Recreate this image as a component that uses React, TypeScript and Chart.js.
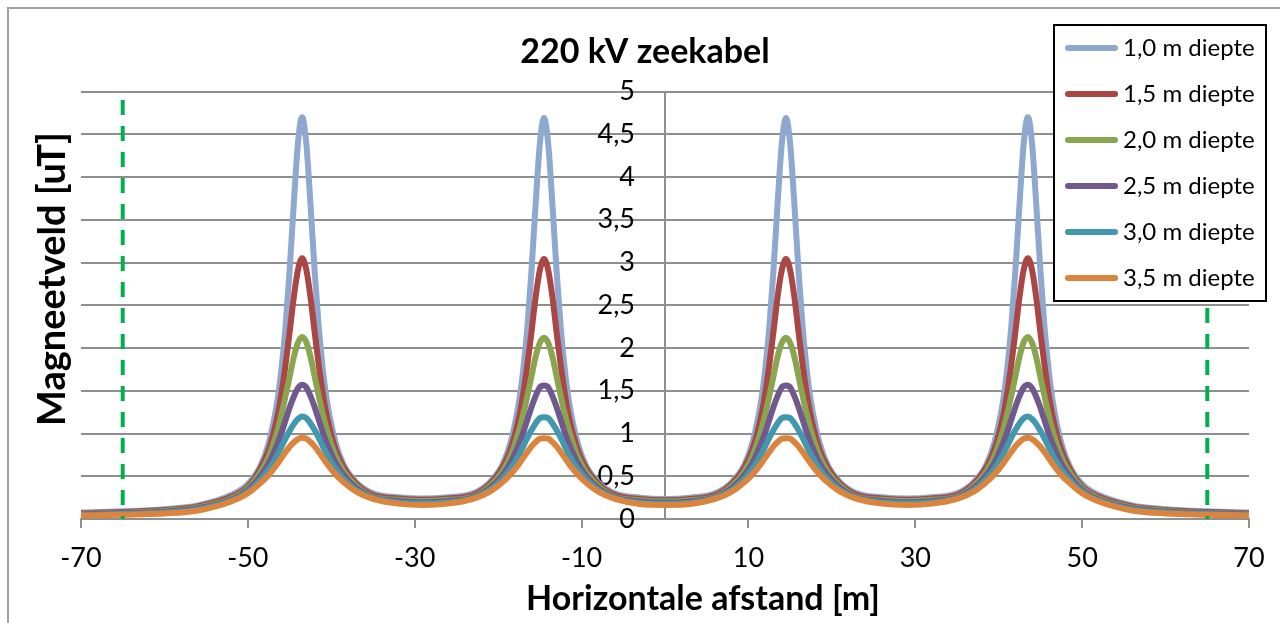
import React, { useEffect, useRef } from "react";
import { Chart, registerables } from "chart.js";

Chart.register(...registerables);

const FONT = "Lato, 'Open Sans', sans-serif";

const chartTitle = "220 kV zeekabel";
const xAxisTitle = "Horizontale afstand [m]";
const yAxisTitle = "Magneetveld [uT]";

const xTickValues = [-70, -50, -30, -10, 10, 30, 50, 70];
const boundaryX = [-65, 65];
const boundaryTop = 4.9;
const yLabelAxisAt = -3.6;

const seriesLabels = ["1,0 m diepte", "1,5 m diepte", "2,0 m diepte", "2,5 m diepte", "3,0 m diepte", "3,5 m diepte"];
const seriesColors = ["#8EA8CF", "#AA4643", "#89A54E", "#71588F", "#4198AF", "#DB843D"];

const xValues = [
  -70, -65, -60, -56, -52, -50, -48.5, -47.5, -46.5, -46, -45.5, -45, -44.5, -44, -43.5,
  -43, -42.5, -42, -41.5, -41, -40.5, -39.5, -38.5, -37, -35, -32, -29, -26, -23, -21,
  -19.5, -18.5, -17.5, -17, -16.5, -16, -15.5, -15, -14.5, -14, -13.5, -13, -12.5, -12, -11.5,
  -10.5, -9.5, -8, -6, -3, 0,
  3, 6, 8, 9.5, 10.5, 11.5, 12, 12.5, 13, 13.5, 14, 14.5, 15, 15.5, 16, 16.5, 17, 17.5, 18.5, 19.5,
  21, 23, 26, 29, 32, 35, 37, 38.5, 39.5, 40.5, 41, 41.5, 42, 42.5, 43, 43.5, 44, 44.5, 45, 45.5,
  46, 46.5, 47.5, 48.5, 50, 52, 56, 60, 65, 70,
];

const depth10 = [
  0.075, 0.09, 0.115, 0.16, 0.28, 0.41, 0.62, 0.89, 1.36, 1.73, 2.23, 2.9, 3.68, 4.39, 4.7,
  4.4, 3.69, 2.91, 2.24, 1.74, 1.37, 0.9, 0.63, 0.43, 0.3, 0.255, 0.24, 0.255, 0.3, 0.43,
  0.63, 0.9, 1.37, 1.74, 2.24, 2.91, 3.69, 4.39, 4.69, 4.39, 3.69, 2.91, 2.24, 1.74, 1.37,
  0.9, 0.63, 0.43, 0.3, 0.25, 0.235,
  0.25, 0.3, 0.43, 0.63, 0.9, 1.37, 1.74, 2.24, 2.91, 3.69, 4.39, 4.69, 4.39, 3.69, 2.91, 2.24, 1.74, 1.37, 0.9, 0.63,
  0.43, 0.3, 0.255, 0.24, 0.255, 0.3, 0.43, 0.63, 0.9, 1.37, 1.74, 2.24, 2.91, 3.69, 4.4, 4.7, 4.39, 3.68, 2.9, 2.23,
  1.73, 1.36, 0.89, 0.62, 0.41, 0.28, 0.16, 0.115, 0.09, 0.075,
];

const depth15 = [
  0.068, 0.082, 0.105, 0.148, 0.26, 0.38, 0.59, 0.81, 1.18, 1.45, 1.79, 2.18, 2.59, 2.91, 3.05,
  2.92, 2.6, 2.19, 1.8, 1.46, 1.19, 0.82, 0.6, 0.41, 0.28, 0.24, 0.225, 0.24, 0.28, 0.41,
  0.6, 0.82, 1.19, 1.46, 1.8, 2.19, 2.6, 2.91, 3.04, 2.91, 2.6, 2.19, 1.8, 1.46, 1.19,
  0.82, 0.6, 0.41, 0.28, 0.235, 0.22,
  0.235, 0.28, 0.41, 0.6, 0.82, 1.19, 1.46, 1.8, 2.19, 2.6, 2.91, 3.04, 2.91, 2.6, 2.19, 1.8, 1.46, 1.19, 0.82, 0.6,
  0.41, 0.28, 0.24, 0.225, 0.24, 0.28, 0.41, 0.6, 0.82, 1.19, 1.46, 1.8, 2.19, 2.6, 2.92, 3.05, 2.91, 2.59, 2.18, 1.79,
  1.45, 1.18, 0.81, 0.59, 0.38, 0.26, 0.148, 0.105, 0.082, 0.068,
];

const depth20 = [
  0.061, 0.074, 0.095, 0.136, 0.24, 0.36, 0.545, 0.73, 1.02, 1.21, 1.43, 1.66, 1.89, 2.06, 2.13,
  2.07, 1.9, 1.67, 1.44, 1.22, 1.03, 0.74, 0.555, 0.385, 0.26, 0.225, 0.21, 0.225, 0.26, 0.385,
  0.555, 0.74, 1.03, 1.22, 1.44, 1.67, 1.9, 2.06, 2.12, 2.06, 1.9, 1.67, 1.44, 1.22, 1.03,
  0.74, 0.555, 0.385, 0.26, 0.22, 0.205,
  0.22, 0.26, 0.385, 0.555, 0.74, 1.03, 1.22, 1.44, 1.67, 1.9, 2.06, 2.12, 2.06, 1.9, 1.67, 1.44, 1.22, 1.03, 0.74, 0.555,
  0.385, 0.26, 0.225, 0.21, 0.225, 0.26, 0.385, 0.555, 0.74, 1.03, 1.22, 1.44, 1.67, 1.9, 2.07, 2.13, 2.06, 1.89, 1.66, 1.43,
  1.21, 1.02, 0.73, 0.545, 0.36, 0.24, 0.136, 0.095, 0.074, 0.061,
];

const depth25 = [
  0.054, 0.066, 0.085, 0.124, 0.225, 0.34, 0.5, 0.65, 0.87, 1.0, 1.15, 1.3, 1.43, 1.53, 1.57,
  1.54, 1.44, 1.31, 1.16, 1.01, 0.88, 0.66, 0.51, 0.36, 0.25, 0.21, 0.195, 0.21, 0.25, 0.36,
  0.51, 0.66, 0.88, 1.01, 1.16, 1.31, 1.44, 1.54, 1.56, 1.54, 1.44, 1.31, 1.16, 1.01, 0.88,
  0.66, 0.51, 0.36, 0.25, 0.205, 0.19,
  0.205, 0.25, 0.36, 0.51, 0.66, 0.88, 1.01, 1.16, 1.31, 1.44, 1.54, 1.56, 1.54, 1.44, 1.31, 1.16, 1.01, 0.88, 0.66, 0.51,
  0.36, 0.25, 0.21, 0.195, 0.21, 0.25, 0.36, 0.51, 0.66, 0.88, 1.01, 1.16, 1.31, 1.44, 1.54, 1.57, 1.53, 1.43, 1.3, 1.15,
  1.0, 0.87, 0.65, 0.5, 0.34, 0.225, 0.124, 0.085, 0.066, 0.054,
];

const depth30 = [
  0.047, 0.058, 0.075, 0.112, 0.215, 0.32, 0.46, 0.58, 0.74, 0.84, 0.94, 1.03, 1.11, 1.17, 1.2,
  1.18, 1.12, 1.04, 0.95, 0.85, 0.75, 0.59, 0.47, 0.34, 0.245, 0.195, 0.18, 0.195, 0.245, 0.34,
  0.47, 0.59, 0.75, 0.85, 0.95, 1.04, 1.12, 1.18, 1.19, 1.18, 1.12, 1.04, 0.95, 0.85, 0.75,
  0.59, 0.47, 0.34, 0.245, 0.19, 0.178,
  0.19, 0.245, 0.34, 0.47, 0.59, 0.75, 0.85, 0.95, 1.04, 1.12, 1.18, 1.19, 1.18, 1.12, 1.04, 0.95, 0.85, 0.75, 0.59, 0.47,
  0.34, 0.245, 0.195, 0.18, 0.195, 0.245, 0.34, 0.47, 0.59, 0.75, 0.85, 0.95, 1.04, 1.12, 1.18, 1.2, 1.17, 1.11, 1.03, 0.94,
  0.84, 0.74, 0.58, 0.46, 0.32, 0.215, 0.112, 0.075, 0.058, 0.047,
];

const depth35 = [
  0.04, 0.05, 0.065, 0.1, 0.205, 0.3, 0.42, 0.515, 0.64, 0.71, 0.78, 0.845, 0.895, 0.935, 0.95,
  0.94, 0.9, 0.85, 0.785, 0.715, 0.645, 0.525, 0.43, 0.32, 0.235, 0.18, 0.165, 0.18, 0.235, 0.32,
  0.43, 0.525, 0.645, 0.715, 0.785, 0.85, 0.9, 0.94, 0.945, 0.94, 0.9, 0.85, 0.785, 0.715, 0.645,
  0.525, 0.43, 0.32, 0.235, 0.175, 0.165,
  0.175, 0.235, 0.32, 0.43, 0.525, 0.645, 0.715, 0.785, 0.85, 0.9, 0.94, 0.945, 0.94, 0.9, 0.85, 0.785, 0.715, 0.645, 0.525, 0.43,
  0.32, 0.235, 0.18, 0.165, 0.18, 0.235, 0.32, 0.43, 0.525, 0.645, 0.715, 0.785, 0.85, 0.9, 0.94, 0.95, 0.935, 0.895, 0.845, 0.78,
  0.71, 0.64, 0.515, 0.42, 0.3, 0.205, 0.1, 0.065, 0.05, 0.04,
];

const seriesValues = [depth10, depth15, depth20, depth25, depth30, depth35];

const titlesPlugin = {
  id: "excelTitles",
  afterDraw(chart: any) {
    const c = chart.ctx;
    c.save();
    c.fillStyle = "#000";
    c.textAlign = "center";
    c.textBaseline = "alphabetic";
    c.font = `bold 34px ${FONT}`;
    c.fillText(chartTitle, 645, 63);
    c.fillText(xAxisTitle, 703, 610);
    c.font = `bold 38px ${FONT}`;
    c.translate(65, 279);
    c.rotate(-Math.PI / 2);
    c.fillText(yAxisTitle, 0, 0);
    c.restore();
  },
};

const legendPlugin = {
  id: "boxLegend",
  afterDraw(chart: any) {
    const c = chart.ctx;
    c.save();
    c.fillStyle = "#fff";
    c.fillRect(1054, 25, 212, 276);
    c.lineWidth = 2;
    c.strokeStyle = "#000";
    c.strokeRect(1054, 25, 212, 276);
    seriesLabels.forEach((label, i) => {
      const y = 48 + i * 46;
      c.strokeStyle = seriesColors[i];
      c.lineWidth = 6;
      c.lineCap = "round";
      c.beginPath();
      c.moveTo(1068, y);
      c.lineTo(1115, y);
      c.stroke();
      c.fillStyle = "#000";
      c.font = `24px ${FONT}`;
      c.textAlign = "left";
      c.textBaseline = "middle";
      c.fillText(label, 1123, y);
    });
    c.restore();
  },
};

export default function App() {
  const canvasRef = useRef<HTMLCanvasElement | null>(null);

  useEffect(() => {
    const canvas = canvasRef.current;
    if (!canvas) return;
    const datasets: any[] = seriesValues.map((ys, i) => ({
      label: seriesLabels[i],
      data: xValues.map((x, j) => ({ x, y: ys[j] })),
      borderColor: seriesColors[i],
      backgroundColor: seriesColors[i],
      borderWidth: 6,
      pointRadius: 0,
      pointHoverRadius: 0,
      cubicInterpolationMode: "monotone",
      borderCapStyle: "round",
      borderJoinStyle: "round",
      fill: false,
      order: seriesValues.length - i,
    }));
    boundaryX.forEach((bx) => {
      datasets.push({
        label: "",
        data: [
          { x: bx, y: boundaryTop },
          { x: bx, y: 0 },
        ],
        borderColor: "#00B050",
        borderWidth: 4,
        borderDash: [15, 11],
        pointRadius: 0,
        fill: false,
        order: 0,
      });
    });

    const yRange = { min: 0, max: 5 };

    const chart = new Chart(canvas, {
      type: "line",
      data: { datasets },
      options: {
        responsive: false,
        maintainAspectRatio: false,
        animation: false,
        events: [],
        layout: { padding: { left: 81, right: 31, top: 91.5, bottom: 34.6 } },
        plugins: {
          legend: { display: false },
          title: { display: false },
          tooltip: { enabled: false },
        },
        scales: {
          x: {
            type: "linear",
            min: -70,
            max: 70,
            afterBuildTicks: (scale: any) => {
              scale.ticks = xTickValues.map((v) => ({ value: v }));
            },
            grid: {
              display: true,
              drawOnChartArea: false,
              drawTicks: true,
              tickLength: 9,
              color: "#8f8f8f",
              lineWidth: 2,
            },
            border: { display: true, color: "#8f8f8f", width: 2 },
            ticks: {
              autoSkip: false,
              maxRotation: 0,
              padding: 14,
              color: "#000",
              font: { family: FONT, size: 27 },
              callback: (v: any) => String(v),
            },
          },
          y: {
            type: "linear",
            ...yRange,
            position: { x: 0 } as any,
            grid: {
              color: "#8f8f8f",
              lineWidth: 2,
              drawTicks: false,
              tickLength: 0,
            },
            border: { display: true, color: "#8f8f8f", width: 2 },
            ticks: { stepSize: 0.5, display: false },
          },
          yLabels: {
            type: "linear",
            axis: "y",
            ...yRange,
            position: { x: yLabelAxisAt } as any,
            grid: { display: false, drawTicks: false, tickLength: 0 },
            border: { display: false },
            ticks: {
              stepSize: 0.5,
              padding: 0,
              color: "#000",
              font: { family: FONT, size: 27 },
              callback: (v: any) => String(v).replace(".", ","),
            },
          },
        },
      },
      plugins: [titlesPlugin, legendPlugin],
    });
    return () => chart.destroy();
  }, []);

  return (
    <div>
      <div
        style={{
          position: "fixed",
          left: 7,
          top: 7,
          width: 1400,
          height: 800,
          border: "2px solid #a0a0a0",
          boxSizing: "border-box",
        }}
      />
      <canvas
        ref={canvasRef}
        width={1280}
        height={623}
        style={{ position: "fixed", left: 0, top: 0, width: 1280, height: 623, display: "block" }}
      />
    </div>
  );
}
